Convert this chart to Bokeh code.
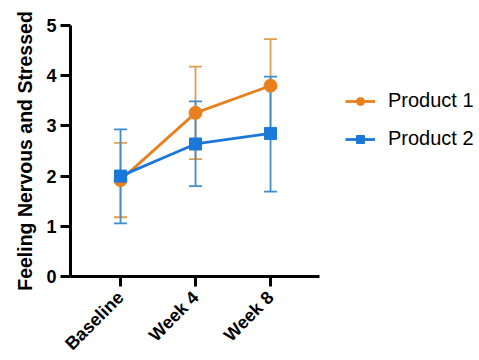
from bokeh.plotting import figure
from bokeh.models import (Range1d, FixedTicker, Whisker, TeeHead, ColumnDataSource,
                          Legend, LegendItem)
from bokeh.embed import file_html
from bokeh.resources import INLINE
import math

categories = ["Baseline", "Week 4", "Week 8"]
p1_mean = [1.92, 3.26, 3.80]
p1_upper = [2.66, 4.18, 4.73]
p1_lower = [1.18, 2.34, 2.87]
p2_mean = [2.00, 2.64, 2.85]
p2_upper = [2.93, 3.49, 3.98]
p2_lower = [1.06, 1.80, 1.69]
y_ticks = [0, 1, 2, 3, 4, 5]

ORANGE = "#E8801E"
BLUE = "#1C78D8"
ORANGE_ERR = "#E39B52"
BLUE_ERR = "#3D8ECB"
FONT = "Liberation Sans"

xs = list(range(len(categories)))
X_START, X_END = -0.667, 2.653   # visible axis extent
PX_PER_CAT = 75.0
FRAME_W = 409

p = figure(frame_width=FRAME_W, frame_height=251, output_backend="svg",
           toolbar_location=None,
           x_range=Range1d(X_START, X_START + FRAME_W / PX_PER_CAT),
           y_range=Range1d(0, 5),
           min_border_left=70, min_border_top=25, min_border_bottom=84,
           min_border_right=0, tools="")
p.outline_line_color = None
p.grid.visible = False
p.background_fill_color = "white"
p.border_fill_color = "white"

src1 = ColumnDataSource(dict(x=xs, y=p1_mean, up=p1_upper, lo=p1_lower))
src2 = ColumnDataSource(dict(x=xs, y=p2_mean, up=p2_upper, lo=p2_lower))

for src, col in ((src1, ORANGE_ERR), (src2, BLUE_ERR)):
    w = Whisker(source=src, base="x", upper="up", lower="lo", line_color=col,
                line_width=1.8,
                upper_head=TeeHead(size=13, line_color=col, line_width=1.8),
                lower_head=TeeHead(size=13, line_color=col, line_width=1.8))
    p.add_layout(w)

l1 = p.line("x", "y", source=src1, line_color=ORANGE, line_width=2.8)
m1 = p.scatter("x", "y", source=src1, marker="circle", size=13,
               fill_color=ORANGE, line_color=ORANGE)
l2 = p.line("x", "y", source=src2, line_color=BLUE, line_width=2.8)
m2 = p.scatter("x", "y", source=src2, marker="square", size=12,
               fill_color=BLUE, line_color=BLUE)

legend = Legend(items=[LegendItem(label="Product 1", renderers=[l1, m1]),
                       LegendItem(label="Product 2", renderers=[l2, m2])],
                location=(275, 126), orientation="vertical")
legend.border_line_color = None
legend.background_fill_alpha = 0
legend.padding = 0
legend.margin = 0
legend.glyph_width = 30
legend.glyph_height = 20
legend.spacing = 15
legend.label_standoff = 13
legend.label_text_font = FONT
legend.label_text_font_size = "20px"
legend.label_text_color = "black"
p.add_layout(legend, "center")

# axes
p.xaxis.ticker = FixedTicker(ticks=xs)
p.xaxis.bounds = (X_START, X_END)
p.xaxis.major_label_overrides = {i: c for i, c in enumerate(categories)}
p.xaxis.major_label_orientation = math.pi / 4
p.yaxis.ticker = FixedTicker(ticks=y_ticks)
for ax in (p.xaxis, p.yaxis):
    ax.axis_line_width = 3
    ax.axis_line_color = "black"
    ax.major_tick_line_width = 3
    ax.major_tick_line_color = "black"
    ax.major_tick_out = 10
    ax.major_tick_in = 0
    ax.minor_tick_line_color = None
    ax.major_label_text_font = FONT
    ax.major_label_text_font_style = "bold"
    ax.major_label_text_color = "black"
p.xaxis.major_label_text_font_size = "18px"
p.yaxis.major_label_text_font_size = "18px"
p.yaxis.major_label_standoff = 4
p.xaxis.major_label_standoff = 8
p.yaxis.axis_label = "Feeling Nervous and Stressed"
p.yaxis.axis_label_text_font = FONT
p.yaxis.axis_label_text_font_style = "bold"
p.yaxis.axis_label_text_font_size = "19.5px"
p.yaxis.axis_label_text_color = "black"
p.yaxis.axis_label_standoff = 7

open("out.html", "w").write(file_html(p, INLINE))
